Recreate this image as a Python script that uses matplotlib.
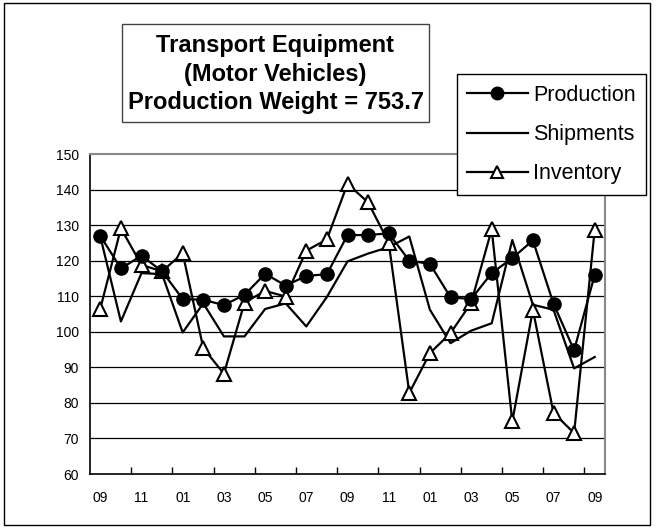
import matplotlib
matplotlib.use("Agg")
import matplotlib.pyplot as plt
from matplotlib.patches import Rectangle
from matplotlib.lines import Line2D

plt.rcParams['font.family'] = ['Liberation Sans', 'DejaVu Sans']

months = ["09", "10", "11", "12", "01", "02", "03", "04", "05", "06", "07", "08",
          "09", "10", "11", "12", "01", "02", "03", "04", "05", "06", "07", "08", "09"]
production = [127.0, 117.8, 121.4, 117.0, 109.2, 109.0, 107.5, 110.4, 116.3, 113.0, 115.7, 116.2,
              127.2, 127.2, 127.7, 120.0, 119.1, 109.7, 109.2, 116.5, 120.7, 125.7, 107.9, 94.8, 116.0]
shipments = [126.8, 102.9, 116.5, 116.2, 99.8, 108.0, 98.7, 98.7, 106.4, 108.0, 101.5, 109.8,
             119.8, 122.0, 123.8, 126.8, 106.2, 96.8, 100.3, 102.4, 125.8, 107.6, 106.2, 89.7, 92.9]
inventory = [106.5, 129.1, 118.8, 117.0, 122.1, 95.4, 88.2, 108.2, 111.5, 109.9, 122.8, 126.0,
             141.6, 136.4, 125.1, 82.8, 94.0, 99.6, 108.1, 128.8, 74.8, 106.2, 77.2, 71.5, 128.7]
yticks = [60, 70, 80, 90, 100, 110, 120, 130, 140, 150]
title_lines = ["Transport Equipment", "(Motor Vehicles)", "Production Weight = 753.7"]
series_names = ["Production", "Shipments", "Inventory"]

W, H = 656, 530
fig = plt.figure(figsize=(W / 100, H / 100), dpi=100)
ax = fig.add_axes([90 / W, 1 - 474 / H, (605 - 90) / W, (474 - 154) / H])

x = list(range(len(months)))
ax.plot(x, shipments, color='black', lw=1.6, zorder=3)
ax.plot(x, inventory, color='black', lw=1.6, marker='^', markersize=9.5,
        markerfacecolor='white', markeredgecolor='black', markeredgewidth=1.5, zorder=4)
ax.plot(x, production, color='black', lw=1.6, marker='o', markersize=9.5,
        markerfacecolor='black', markeredgecolor='black', zorder=5)

ax.set_xlim(-0.5, len(months) - 0.5)
ax.set_ylim(60, 150)
ax.set_yticks(yticks)
ax.set_yticklabels([str(v) for v in yticks], fontsize=10)
ax.tick_params(axis='y', length=0, pad=8)
for v in yticks[1:-1]:
    ax.axhline(v, color='black', lw=0.9, zorder=1)

label_pos = x[::2]
ax.set_xticks(label_pos)
ax.set_xticklabels([months[i] for i in label_pos], fontsize=10)
ax.set_xticks([i + 1.5 for i in x[:-1:2]], minor=True)
ax.tick_params(axis='x', which='major', length=0, pad=12)
ax.tick_params(axis='x', which='minor', direction='in', length=5, width=1)

for s in ['left', 'bottom']:
    ax.spines[s].set_color('black')
    ax.spines[s].set_linewidth(1.2)
for s in ['top', 'right']:
    ax.spines[s].set_color('#888888')
    ax.spines[s].set_linewidth(1.5)

# outer frame
fig.patches.append(Rectangle((4 / W, 1 - 525 / H), 646 / W, 522 / H, transform=fig.transFigure,
                             fill=False, edgecolor='black', lw=1.0))
# title box
fig.patches.append(Rectangle((122 / W, 1 - 121.6 / H), (429 - 122) / W, (121.6 - 23.6) / H,
                             transform=fig.transFigure, facecolor='white', edgecolor='#444444', lw=1.0, zorder=5))
fig.text(275.5 / W, 1 - 74 / H, "\n".join(title_lines), ha='center', va='center',
         fontsize=17, fontweight='bold', linespacing=1.3, zorder=6)

handles = [
    Line2D([], [], color='black', lw=1.6, marker='o', markersize=9, markerfacecolor='black'),
    Line2D([], [], color='black', lw=1.6),
    Line2D([], [], color='black', lw=1.6, marker='^', markersize=9, markerfacecolor='white', markeredgewidth=1.5),
]
leg = fig.legend(handles, series_names, loc='upper right', bbox_to_anchor=(646.4 / W, 1 - 74 / H),
                 fontsize=15.5, frameon=True, fancybox=False, edgecolor='black', framealpha=1,
                 handlelength=2.8, labelspacing=0.85, borderaxespad=0, handletextpad=0.25,
                 borderpad=0.5)
leg.get_frame().set_linewidth(1.0)
leg.set_zorder(10)

fig.savefig("out.png", dpi=100)
